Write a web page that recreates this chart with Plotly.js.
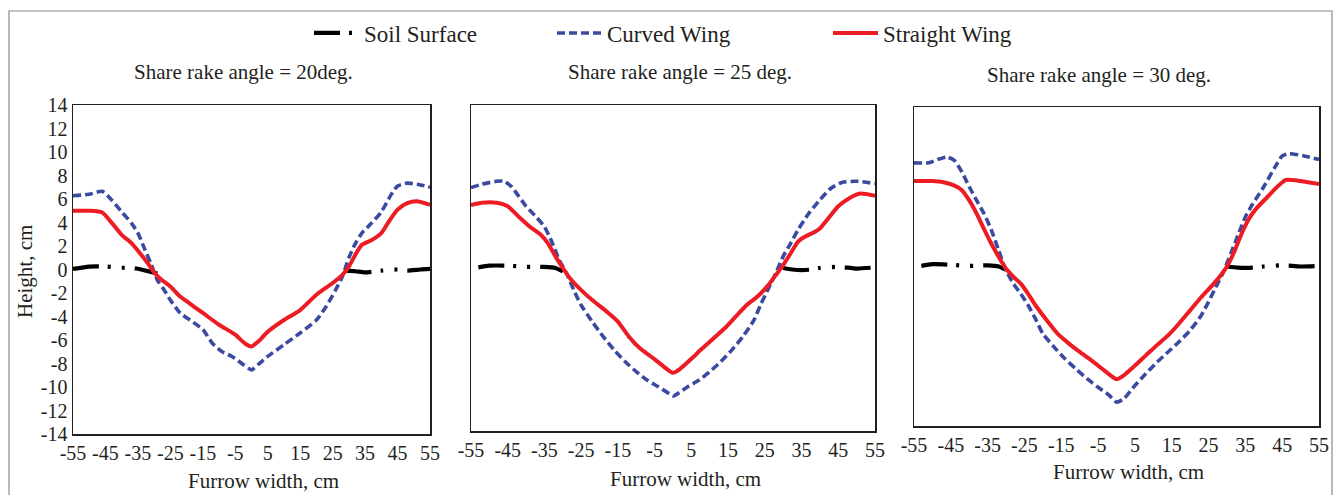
<!DOCTYPE html>
<html>
<head>
<meta charset="utf-8">
<script src="https://cdn.plot.ly/plotly-3.0.1.min.js"></script>
<style>html,body{margin:0;padding:0;background:#fff;}#chart{width:1343px;height:495px;}</style>
</head>
<body>
<div id="chart"></div>
<script>
// ---- data ----
const xTickVals = [-55, -45, -35, -25, -15, -5, 5, 15, 25, 35, 45, 55];
const yTickVals = [14, 12, 10, 8, 6, 4, 2, 0, -2, -4, -6, -8, -10, -12, -14];
const panelTitles = ["Share rake angle = 20deg.", "Share rake angle = 25 deg.", "Share rake angle = 30 deg."];
const seriesNames = ["Soil Surface", "Curved Wing", "Straight Wing"];

// Panel 1 (20 deg)
const soil20X = [-55, -50, -45, -40, -37, -34, -31, -29, 0, 29, 32, 35, 40, 45, 48, 52, 55];
const soil20Y = [0.05, 0.25, 0.25, 0.15, 0.15, 0.0, -0.2, -0.35, null, -0.1, -0.15, -0.25, -0.1, 0.0, -0.1, 0.0, 0.05];
const curved20X = [-55, -50, -46, -43, -40, -37, -35, -33, -31, -29, -27, -25, -22, -19, -15, -12, -9, -6, -3, -1, 0, 2, 5, 10, 15, 20, 23, 26, 28, 30, 32, 34, 37, 40, 43, 45, 48, 52, 55];
const curved20Y = [6.28, 6.4, 6.65, 5.9, 4.9, 3.95, 3.1, 1.8, 0.5, -0.9, -1.7, -2.6, -3.7, -4.3, -5.1, -6.3, -7.0, -7.4, -8.0, -8.4, -8.55, -8.1, -7.4, -6.4, -5.4, -4.3, -3.15, -1.7, -0.6, 1.0, 2.2, 3.1, 3.95, 4.9, 6.35, 7.1, 7.35, 7.2, 7.0];
const straight20X = [-55, -50, -46, -43, -40, -37, -35, -32, -30, -28, -25, -22, -20, -15, -10, -5, -2, 0, 2, 5, 10, 15, 20, 25, 28, 30, 32, 34, 37, 40, 42, 45, 48, 51, 55];
const straight20Y = [5.0, 5.0, 4.85, 3.95, 2.95, 2.25, 1.6, 0.55, -0.25, -0.8, -1.45, -2.3, -2.7, -3.7, -4.7, -5.55, -6.3, -6.55, -6.15, -5.3, -4.3, -3.45, -2.15, -1.15, -0.45, 0.25, 1.25, 2.1, 2.5, 3.1, 3.95, 5.1, 5.65, 5.8, 5.5];

// Panel 2 (25 deg)
const soil25X = [-53, -50, -45, -40, -35, -32, -30, 0, 30, 33, 37, 40, 45, 50, 55];
const soil25Y = [0.05, 0.2, 0.2, 0.1, 0.1, 0.0, -0.3, null, 0.0, -0.15, -0.15, 0.0, 0.1, -0.05, 0.05];
const curved25X = [-55, -52, -48, -46, -44, -42, -40, -37, -35, -33, -31, -29, -27, -25, -22, -19, -16, -13, -10, -7, -4, -1, 0, 1, 4, 7, 10, 13, 16, 19, 22, 24, 26, 28, 30, 32, 34, 37, 40, 43, 46, 50, 55];
const curved25Y = [6.9, 7.2, 7.45, 7.45, 7.0, 6.15, 5.3, 4.3, 3.55, 2.25, 0.7, -0.45, -1.9, -3.2, -4.6, -5.9, -7.05, -8.05, -8.9, -9.65, -10.2, -10.8, -11.0, -10.85, -10.2, -9.65, -8.9, -8.05, -7.05, -5.9, -4.5, -3.05, -1.75, -0.45, 1.0, 2.1, 3.25, 4.7, 5.85, 6.85, 7.35, 7.45, 7.25];
const straight25X = [-55, -52, -48, -45, -42, -39, -36, -34, -32, -30, -28, -25, -22, -18, -15, -12, -9, -6, -3, 0, 2, 5, 8, 11, 14, 17, 20, 23, 26, 28, 30, 32, 34, 36, 38, 40, 42, 45, 48, 51, 55];
const straight25Y = [5.4, 5.6, 5.6, 5.3, 4.4, 3.55, 2.85, 2.1, 1.0, 0.0, -0.9, -1.9, -2.75, -3.75, -4.6, -5.9, -6.9, -7.6, -8.35, -9.0, -8.65, -7.8, -6.9, -6.05, -5.2, -4.2, -3.2, -2.45, -1.45, -0.6, 0.25, 1.25, 2.25, 2.7, 3.0, 3.4, 4.15, 5.3, 6.0, 6.4, 6.2];

// Panel 3 (30 deg)
const soil30X = [-53, -50, -45, -40, -35, -32, -30, 0, 30, 33, 37, 40, 45, 50, 55];
const soil30Y = [0.05, 0.2, 0.15, 0.05, 0.1, 0.0, -0.3, null, 0.0, -0.1, -0.1, 0.0, 0.1, 0.0, 0.05];
const curved30X = [-55, -51, -48, -46, -44, -42, -40, -38, -36, -34, -32, -30, -28, -26, -24, -22, -20, -17, -14, -11, -8, -5, -2, 0, 2, 5, 8, 11, 14, 17, 20, 23, 25, 27, 29, 31, 33, 35, 37, 40, 43, 45, 47, 51, 55];
const curved30Y = [9.1, 9.1, 9.45, 9.6, 9.3, 8.3, 7.0, 5.8, 4.65, 3.2, 1.4, -0.35, -1.5, -2.4, -3.4, -4.6, -5.9, -7.05, -8.1, -9.0, -9.85, -10.6, -11.3, -11.9, -11.6, -10.45, -9.4, -8.4, -7.5, -6.6, -5.6, -4.3, -3.1, -1.8, -0.5, 1.1, 2.75, 4.35, 5.5, 7.0, 8.7, 9.7, 9.9, 9.7, 9.4];
const straight30X = [-55, -50, -47, -44, -42, -40, -38, -36, -34, -32, -30, -28, -26, -24, -22, -19, -16, -13, -10, -7, -4, -1, 0, 2, 5, 8, 11, 14, 17, 20, 23, 26, 28, 30, 32, 34, 36, 38, 41, 44, 46, 49, 52, 55];
const straight30Y = [7.5, 7.5, 7.4, 7.1, 6.7, 5.8, 4.65, 3.3, 2.0, 0.85, -0.2, -0.9, -1.5, -2.4, -3.4, -4.7, -5.9, -6.75, -7.5, -8.2, -8.95, -9.7, -9.9, -9.55, -8.7, -7.8, -6.9, -6.05, -5.0, -3.85, -2.7, -1.65, -0.9, 0.0, 1.3, 2.9, 4.2, 5.1, 6.1, 7.1, 7.6, 7.55, 7.4, 7.25];

// ---- styling ----
const W = 1343, H = 495;
const px = v => v / W;
const py = v => 1 - v / H;
const FONT = "'Liberation Serif', 'DejaVu Serif', serif";
const INK = "#231f20";
const soilLine = {color: "#000000", width: 4.2, dash: "26px,9px,3px,11px,3px,10px", shape: "spline", smoothing: 0.6};
const curvedLine = {color: "#3a4aa0", width: 3.6, dash: "8px,4px", shape: "spline", smoothing: 0.6};
const straightLine = {color: "#ed1c24", width: 4, shape: "spline", smoothing: 0.6};
const hyphen = v => String(v);  // plain hyphen-minus labels as in the original

const panels = [
  {soil: [soil20X, soil20Y], curved: [curved20X, curved20Y], straight: [straight20X, straight20Y]},
  {soil: [soil25X, soil25Y], curved: [curved25X, curved25Y], straight: [straight25X, straight25Y]},
  {soil: [soil30X, soil30Y], curved: [curved30X, curved30Y], straight: [straight30X, straight30Y]}
];

const traces = [];
panels.forEach((p, i) => {
  const xa = i === 0 ? "x" : "x" + (i + 1);
  const ya = i === 0 ? "y" : "y" + (i + 1);
  traces.push({type: "scatter", mode: "lines", x: p.soil[0], y: p.soil[1], xaxis: xa, yaxis: ya,
    name: seriesNames[0], line: soilLine, connectgaps: false,
    showlegend: i === 0, legend: "legend", hoverinfo: "skip"});
  traces.push({type: "scatter", mode: "lines", x: p.curved[0], y: p.curved[1], xaxis: xa, yaxis: ya,
    name: seriesNames[1], line: curvedLine, showlegend: i === 0, legend: "legend2", hoverinfo: "skip"});
  traces.push({type: "scatter", mode: "lines", x: p.straight[0], y: p.straight[1], xaxis: xa, yaxis: ya,
    name: seriesNames[2], line: straightLine, showlegend: i === 0, legend: "legend3", hoverinfo: "skip"});
});

const boxes = [
  {x0: 73, x1: 430, y0: 105, y1: 434},
  {x0: 471, x1: 875, y0: 105, y1: 431},
  {x0: 914, x1: 1319, y0: 107, y1: 426}
];

const legendFont = {family: FONT, size: 23, color: INK};
const layout = {
  width: W, height: H,
  margin: {l: 0, r: 0, t: 0, b: 0},
  paper_bgcolor: "#ffffff", plot_bgcolor: "#ffffff",
  font: {family: FONT, color: INK, size: 20},
  shapes: [{type: "rect", xref: "paper", yref: "paper", x0: px(9), x1: px(1332), y0: py(11), y1: py(520),
            line: {color: "#8a8a8a", width: 1.2}, fillcolor: "rgba(0,0,0,0)", layer: "below"}],
  annotations: [],
  legend: {orientation: "h", x: px(309), xanchor: "left", y: py(33), yanchor: "middle",
           font: legendFont, bgcolor: "rgba(0,0,0,0)", itemwidth: 45},
  legend2: {orientation: "h", x: px(552), xanchor: "left", y: py(33), yanchor: "middle",
           font: legendFont, bgcolor: "rgba(0,0,0,0)", itemwidth: 45},
  legend3: {orientation: "h", x: px(828), xanchor: "left", y: py(33), yanchor: "middle",
           font: legendFont, bgcolor: "rgba(0,0,0,0)", itemwidth: 45}
};

boxes.forEach((b, i) => {
  const sfx = i === 0 ? "" : String(i + 1);
  layout["xaxis" + sfx] = {
    domain: [px(b.x0), px(b.x1)], anchor: "y" + sfx, range: [-55, 55],
    tickvals: xTickVals, ticktext: xTickVals.map(hyphen), tickangle: 0,
    showgrid: false, zeroline: false, showline: true, mirror: true, linecolor: INK, linewidth: 1.5,
    ticks: "", tickfont: {family: FONT, size: 20, color: INK}, fixedrange: true
  };
  layout["yaxis" + sfx] = {
    domain: [py(b.y1), py(b.y0)], anchor: "x" + sfx, range: [-14, 14],
    tickvals: yTickVals, ticktext: yTickVals.map(hyphen), showticklabels: i === 0,
    showgrid: false, zeroline: false, showline: true, mirror: true, linecolor: INK, linewidth: 1.5,
    ticks: "", tickfont: {family: FONT, size: 20, color: INK}, fixedrange: true
  };
});

const titlePos = [[243, 72], [680, 72], [1099, 75]];
const xTitlePos = [[263, 481], [685, 479], [1128, 472]];
panelTitles.forEach((t, i) => {
  layout.annotations.push({text: t, xref: "paper", yref: "paper", x: px(titlePos[i][0]), y: py(titlePos[i][1]),
    xanchor: "center", yanchor: "middle", showarrow: false, font: {family: FONT, size: 21, color: INK}});
  layout.annotations.push({text: "Furrow width, cm", xref: "paper", yref: "paper", x: px(xTitlePos[i][0]), y: py(xTitlePos[i][1]),
    xanchor: "center", yanchor: "middle", showarrow: false, font: {family: FONT, size: 21, color: INK}});
});
layout.annotations.push({text: "Height, cm", xref: "paper", yref: "paper", x: px(25), y: py(272), textangle: -90,
  xanchor: "center", yanchor: "middle", showarrow: false, font: {family: FONT, size: 21, color: INK}});

Plotly.newPlot("chart", traces, layout, {displayModeBar: false, staticPlot: true});
</script>
</body>
</html>
